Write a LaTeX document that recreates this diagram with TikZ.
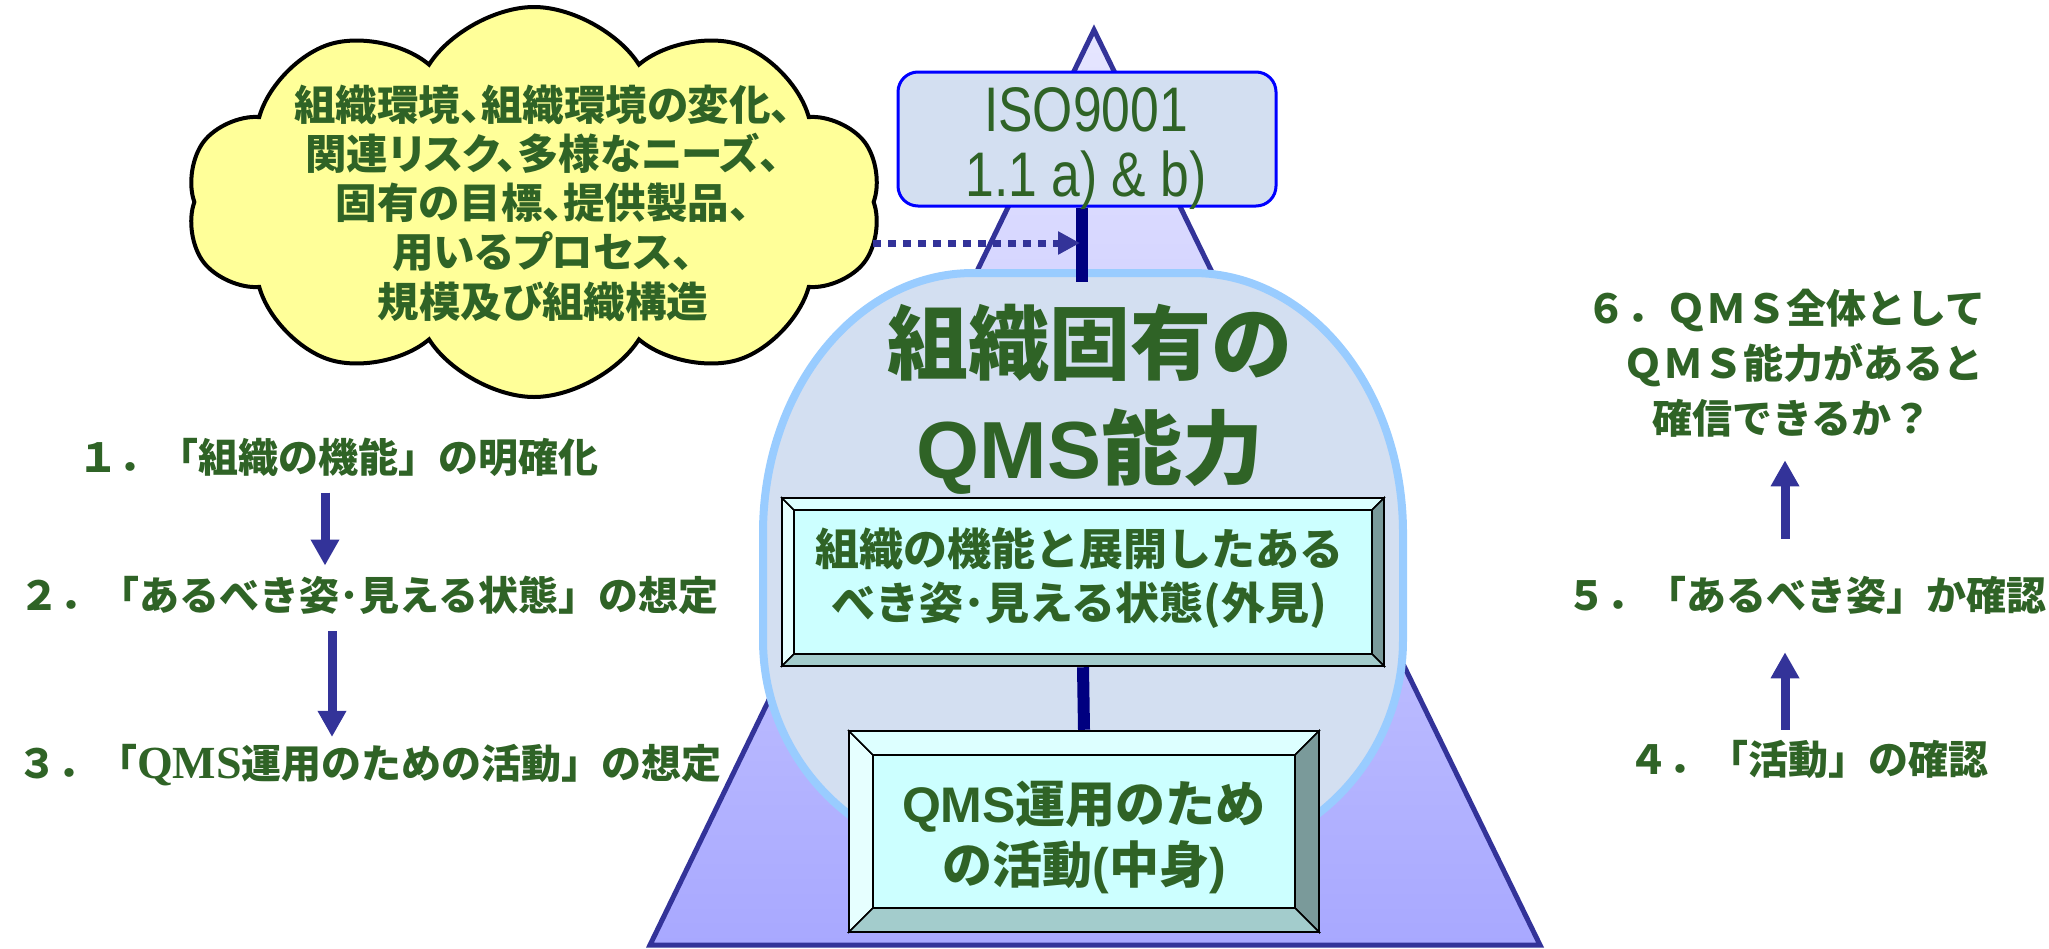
\documentclass[tikz,border=0pt]{standalone}
\usepackage{fontspec}
\setmainfont{Liberation Sans}
\newfontfamily\jp{Noto Sans CJK JP}
\newfontfamily\jpp{Noto Sans CJK JP}[RawFeature=+palt]
\newfontfamily\tms{Liberation Serif}
\newfontfamily\isofont{Liberation Sans}[FakeStretch=0.82]
\usetikzlibrary{shapes.symbols,arrows.meta,calc}
\definecolor{txt}{HTML}{2F6326}
\definecolor{tri}{HTML}{333399}
\definecolor{triT}{HTML}{E6E6FF}
\definecolor{triB}{HTML}{A8A8FF}
\definecolor{navyc}{HTML}{000080}
\definecolor{capf}{HTML}{D3DFF1}
\definecolor{capb}{HTML}{99CCFF}
\definecolor{cloudy}{HTML}{FFFF99}
\definecolor{face}{HTML}{CCFFFF}
\definecolor{bevT}{HTML}{DDFFFF}
\definecolor{bevL}{HTML}{E6FFFF}
\definecolor{bevR}{HTML}{7A9A9A}
\definecolor{bevB}{HTML}{A3CCCC}
\tikzset{
  bevel/.style={draw=black, line width=1.5, line join=miter},
  boxframe/.style={draw=black, line width=2.5, inner sep=0},
  navyline/.style={draw=navyc, line width=12},
  dotarrow/.style={draw=tri, line width=7, dash pattern=on 8pt off 7pt, -{Triangle[length=22pt,width=22pt]}},
  steparrow/.style={draw=tri, line width=9, -{Triangle[length=26pt,width=27pt]}},
  steptext/.style={text=txt, font=\jp\bfseries\fontsize{40}{55}\selectfont, inner sep=0, anchor=west, align=left},
  isobox/.style={draw=blue, fill=capf, line width=3, rounded corners=20, inner sep=0},
}
\newcommand\bevelfaces[5]{%
  \filldraw[bevel, fill=bevL] (#1,#2) -- (#1+#5,#2+#5) -- (#1+#5,#4-#5) -- (#1,#4) -- cycle;
  \filldraw[bevel, fill=bevT] (#1,#2) -- (#3,#2) -- (#3-#5,#2+#5) -- (#1+#5,#2+#5) -- cycle;
  \filldraw[bevel, fill=bevR] (#3,#2) -- (#3,#4) -- (#3-#5,#4-#5) -- (#3-#5,#2+#5) -- cycle;
  \filldraw[bevel, fill=bevB] (#1,#4) -- (#3,#4) -- (#3-#5,#4-#5) -- (#1+#5,#4-#5) -- cycle;
  \filldraw[bevel, fill=face] (#1+#5,#2+#5) rectangle (#3-#5,#4-#5);}
\begin{document}
\begin{tikzpicture}[x=1pt,y=-1pt]
\useasboundingbox (0,0) rectangle (2049,948);
% pyramid
\shade[top color=triT, bottom color=triB] (1094,30) -- (1540,945) -- (650,945) -- cycle;
\draw[draw=tri, line width=5] (1094,30) -- (1540,945) -- (650,945) -- cycle;
% capability shape
\draw[draw=capb, fill=capf, line width=8] (763,533) .. controls (763,389) and (857,273) .. (973,273) -- (1193,273) .. controls (1309,273) and (1403,389) .. (1403,533) -- (1403,640) .. controls (1403,761.5) and (1304.5,860) .. (1183,860) -- (983,860) .. controls (861.5,860) and (763,761.5) .. (763,640) -- cycle;
% cloud
\node[cloud, cloud puffs=10, cloud puff arc=115, cloud ignores aspect, draw=black, line width=4, fill=cloudy, minimum width=695, minimum height=390] (cloud) at (534,202) {};
% ISO box
\node[isobox, minimum width=378, minimum height=134] (iso) at (1087,139) {};
\coordinate (qtop) at (1082,282);
\draw[navyline] (iso.south -| qtop) -- (qtop);
\coordinate (cloudR) at (873,243);
\draw[dotarrow] (cloudR) -- ($(qtop |- cloudR)+(-2,0)$);
\node[text=txt, font=\isofont\fontsize{63}{65}\selectfont, align=center, inner sep=0] (isotxt) at (1086,149) {ISO9001\\1.1 a) \& b)};
% bevel boxes
\bevelfaces{782}{498}{1384}{666}{12}
\node[boxframe, minimum width=602, minimum height=168] (fb) at (1083,582) {};
\bevelfaces{849}{731}{1319}{932}{24}
\node[boxframe, minimum width=470, minimum height=201] (ab) at (1084,831.5) {};
\draw[navyline] (fb.south) -- (ab.north);
% texts
\node[text=txt, font=\jp\bfseries\fontsize{81}{105}\selectfont, align=center, inner sep=0] (ttl) at (1090,399) {組織固有の\\{\rmfamily\bfseries QMS}能力};
\node[text=txt, font=\jpp\bfseries\fontsize{41.5}{49.3}\selectfont, align=center, inner sep=0] (cloudtxt) at (543,203) {組織環境、組織環境の変化、\\関連リスク、多様なニーズ、\\固有の目標、提供製品、\\用いるプロセス、\\規模及び組織構造};
\node[text=txt, font=\jp\bfseries\fontsize{44}{54}\selectfont, align=center, inner sep=0] (fbtxt) at (1079,578) {組織の機能と展開したある\\べき姿･見える状態(外見)};
\node[text=txt, font=\jp\bfseries\fontsize{50}{61}\selectfont, align=center, inner sep=0] (abtxt) at (1084,837) {{\rmfamily\bfseries QMS}運用のため\\の活動{\rmfamily\bfseries(}中身{\rmfamily\bfseries)}};
% left steps
\node[steptext] (l1) at (78,457) {１．「組織の機能」の明確化};
\node[steptext] (l2) at (19,595) {２．「あるべき姿･見える状態」の想定};
\node[steptext] (l3) at (17,765) {３．「{\tms\bfseries\fontsize{46}{55}\selectfont QMS}運用のための活動」の想定};
\coordinate (lax1) at (325,0);
\coordinate (lax2) at (332,0);
\draw[steparrow, shorten <=16pt, shorten >=10pt] (l1.south -| lax1) -- (l2.north -| lax1);
\draw[steparrow, shorten <=17pt, shorten >=7pt] (l2.south -| lax2) -- (l3.north -| lax2);
% right steps
\node[steptext] (r6) at (1586,363) {６．ＱＭＳ全体として\\\hspace*{37pt}ＱＭＳ能力があると\\\hspace*{66pt}確信できるか？};
\node[steptext] (r5) at (1566,595) {５．「あるべき姿」か確認};
\node[steptext] (r4) at (1628,759) {４．「活動」の確認};
\coordinate (rax) at (1785,0);
\draw[steparrow, shorten <=10pt, shorten >=38pt] (r4.north -| rax) -- (r5.south -| rax);
\draw[steparrow, shorten <=37pt, shorten >=23pt] (r5.north -| rax) -- (r6.south -| rax);
\end{tikzpicture}
\end{document}
